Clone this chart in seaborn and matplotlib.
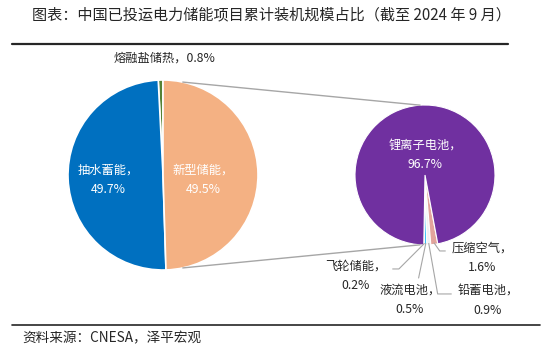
import numpy as np
import matplotlib
matplotlib.use("Agg")
import matplotlib.pyplot as plt
import seaborn as sns
from matplotlib.patches import ConnectionPatch
from matplotlib.lines import Line2D

# --- Datos ---
main_labels = ["熔融盐储热", "抽水蓄能", "新型储能"]
main_values = [0.8, 49.7, 49.5]
main_colors = ["#548235", "#0070C0", "#F4B183"]

sub_labels = ["飞轮储能", "液流电池", "铅蓄电池", "压缩空气", "锂离子电池"]
sub_values = [0.2, 0.5, 0.9, 1.6, 96.7]
sub_colors = ["#BFBFBF", "#00B0F0", "#F2F2F2", "#E3A49C", "#7030A0"]

title = "图表：中国已投运电力储能项目累计装机规模占比（截至 2024 年 9 月）"
source = "资料来源：CNESA，泽平宏观"

sns.set_theme(style="white")
plt.rcParams['font.family'] = ['Noto Sans CJK SC', 'DejaVu Sans']

W, H = 553, 354
fig = plt.figure(figsize=(W / 100, H / 100), dpi=100)
fig.patch.set_facecolor("white")


def px_axes(cx, cy, r):
    # ejes cuadrados centrados en (cx, cy) en pixeles (origen arriba-izquierda)
    return fig.add_axes([(cx - r) / W, (H - cy - r) / H, 2 * r / W, 2 * r / H])


# --- Pie principal ---
ax1 = px_axes(163, 175, 95)
w1, _ = ax1.pie(main_values, colors=main_colors, startangle=90, counterclock=True,
                radius=1, wedgeprops=dict(edgecolor="white", linewidth=1.2))
ax1.set_xlim(-1, 1)
ax1.set_ylim(-1, 1)
ax1.set_aspect("equal")
ax1.axis("off")

ax1.text(-0.58, -0.05, f"{main_labels[1]}，\n{main_values[1]}%", color="white",
         ha="center", va="center", fontsize=8.8, linespacing=1.6)
ax1.text(0.42, -0.05, f"{main_labels[2]}，\n{main_values[2]}%", color="white",
         ha="center", va="center", fontsize=8.8, linespacing=1.6)
ax1.text(0.02, 1.23, f"{main_labels[0]}，{main_values[0]}%", color="#262626",
         ha="center", va="center", fontsize=8.8, clip_on=False)

# --- Pie secundario (nuevo tipo) ---
ax2 = px_axes(425, 175, 70)
w2, _ = ax2.pie(sub_values, colors=sub_colors, startangle=269, counterclock=True,
                radius=1, wedgeprops=dict(edgecolor="white", linewidth=0.8))
ax2.set_xlim(-1, 1)
ax2.set_ylim(-1, 1)
ax2.set_aspect("equal")
ax2.axis("off")

ax2.text(0, 0.29, f"{sub_labels[4]}，\n{sub_values[4]}%", color="white",
         ha="center", va="center", fontsize=8.8, linespacing=1.6)

# lineas de conexion
for a1, a2 in [(78, 94), (-78, 266)]:
    p1 = (np.cos(np.radians(a1)), np.sin(np.radians(a1)))
    p2 = (np.cos(np.radians(a2)), np.sin(np.radians(a2)))
    con = ConnectionPatch(xyA=p1, coordsA=ax1.transData, xyB=p2, coordsB=ax2.transData,
                          color="#A6A6A6", lw=1.0)
    fig.add_artist(con)

# etiquetas de los sectores pequeños (posicion, punto de salida, estilo de la guia)
label_pos = [
    (356, 276, (1.0, 0.72), "angle,angleA=0,angleB=45,rad=0"),
    (410, 300, (0.62, 1.0), "arc3,rad=0"),
    (488, 301, (0.0, 0.72), "angle,angleA=0,angleB=100,rad=0"),
    (482, 258, (0.0, 0.72), "angle,angleA=0,angleB=125,rad=0"),
]
for i, (tx, ty, rel, cstyle) in enumerate(label_pos):
    w = w2[i]
    mid = np.radians((w.theta1 + w.theta2) / 2)
    pt = (0.98 * np.cos(mid), 0.98 * np.sin(mid))
    ax2.annotate(f"{sub_labels[i]}，\n{sub_values[i]}%", xy=pt, xycoords="data",
                 xytext=(tx, H - ty), textcoords="figure pixels",
                 ha="center", va="center", fontsize=8.8, linespacing=1.6, color="#262626",
                 arrowprops=dict(arrowstyle="-", color="#A6A6A6", lw=0.8,
                                 shrinkA=2, shrinkB=0, relpos=rel,
                                 connectionstyle=cstyle))

# --- Titulo, lineas y fuente ---
fig.text(32 / W, 1 - 15 / H, title, ha="left", va="center", fontsize=10.9, color="#262626")
fig.add_artist(Line2D([12 / W, 508 / W], [1 - 44 / H, 1 - 44 / H], color="#262626", lw=1.6))
fig.add_artist(Line2D([12 / W, 540 / W], [1 - 325 / H, 1 - 325 / H], color="#262626", lw=1.2))
fig.text(22 / W, 1 - 338 / H, source, ha="left", va="center", fontsize=9.8, color="#262626",
         fontstyle="italic")

fig.savefig("out.png", dpi=100, facecolor="white")
